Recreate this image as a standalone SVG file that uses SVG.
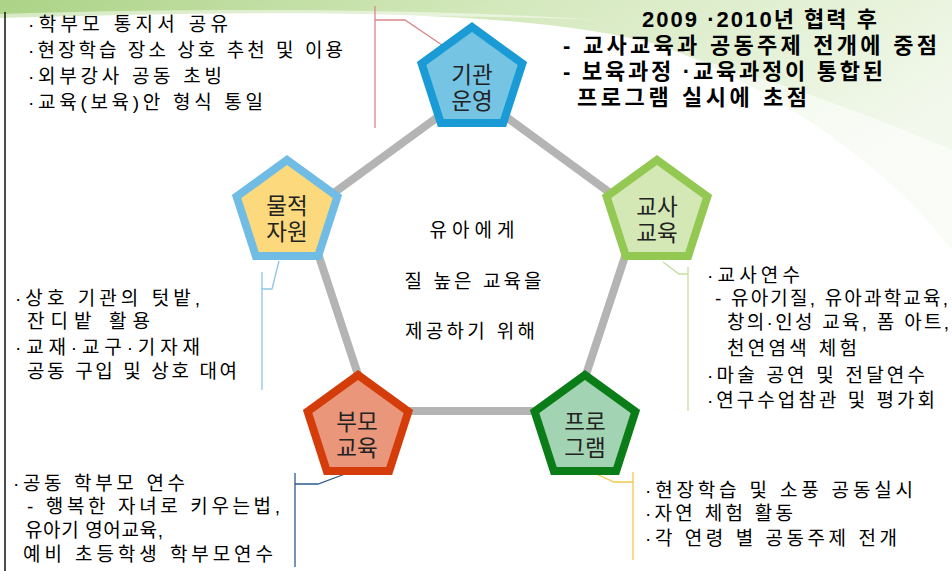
<svg xmlns="http://www.w3.org/2000/svg" width="952" height="571" viewBox="0 0 952 571">
<defs>
<linearGradient id="sw1" x1="0" y1="0" x2="1" y2="0.4">
<stop offset="0" stop-color="#8fc45e"/>
<stop offset="0.45" stop-color="#c4e0a4"/>
<stop offset="1" stop-color="#eef6e6"/>
</linearGradient>
<polygon id="pent" points="0,-53 50.4,-16.4 31.2,42.9 -31.2,42.9 -50.4,-16.4"/>
<style>
.t{font-family:"Liberation Sans","Noto Sans CJK KR",sans-serif;font-size:19px;fill:#000;}
.b{font-family:"Liberation Sans","Noto Sans CJK KR",sans-serif;font-size:22px;font-weight:bold;fill:#000;}
.lab{font-family:"Liberation Sans","Noto Sans CJK KR",sans-serif;font-size:22.5px;fill:#222;text-anchor:middle;}
.ring{stroke:#b4b4b4;stroke-width:8;fill:none;}
.co{fill:none;stroke-width:1.3;}
.pg{stroke-width:8;stroke-linejoin:miter;}
</style>
</defs>
<rect width="952" height="571" fill="#ffffff"/>
<path d="M0,0 L952,0 L952,250 C890,170 790,95 660,45 C520,8 300,10 0,18 Z" fill="url(#sw1)" opacity="0.75"/>
<path d="M420,20 C600,20 760,70 952,150 L952,250 C880,170 780,100 650,52 C560,28 480,22 420,20 Z" fill="#ffffff" opacity="0.55"/>
<path d="M0,14 C200,8 420,8 600,20 C450,14 220,15 0,22 Z" fill="#ffffff" opacity="0.5"/>
<line x1="5" y1="12" x2="5" y2="571" stroke="#111" stroke-width="1.5"/>

<g id="connectors">
<polyline class="ring" points="472,92 639,214 574,411 370,411 305,214 472,92"/>
<polyline class="co" stroke="#d9868a" points="375,6 375,128"/>
<polyline class="co" stroke="#d9868a" points="375,20 405,20 442,45"/>
<polyline class="co" stroke="#8cc6e6" points="262,272 262,390"/>
<polyline class="co" stroke="#8cc6e6" points="262,289 272,289 279,261"/>
<polyline class="co" stroke="#c5dea0" points="688,267 688,411"/>
<polyline class="co" stroke="#c5dea0" points="688,274 679,274 663,262"/>
<polyline class="co" stroke="#2e5a8a" points="295,473 295,567"/>
<polyline class="co" stroke="#2e5a8a" points="295,484 318,484 345,474"/>
<polyline class="co" stroke="#f2c84b" points="633,472 633,560"/>
<polyline class="co" stroke="#f2c84b" points="633,482 614,482 594,473"/>
</g>

<g id="node-gigwan">
<use href="#pent" transform="translate(472,80)" class="pg" fill="#76c4e4" stroke="#1a9bd5"/>
<text class="lab" x="472" y="83">기관<tspan x="472" dy="26">운영</tspan></text>
</g>
<g id="node-gyosa">
<use href="#pent" transform="translate(657,213)" class="pg" fill="#d4e8b6" stroke="#93c852"/>
<text class="lab" x="657" y="215">교사<tspan x="657" dy="26">교육</tspan></text>
</g>
<g id="node-program">
<use href="#pent" transform="translate(585,428)" class="pg" fill="#a2d3b2" stroke="#0b7d18"/>
<text class="lab" x="585" y="430">프로<tspan x="585" dy="26">그램</tspan></text>
</g>
<g id="node-bumo">
<use href="#pent" transform="translate(358,428)" class="pg" fill="#e9967b" stroke="#d43c0a"/>
<text class="lab" x="357" y="430">부모<tspan x="357" dy="26">교육</tspan></text>
</g>
<g id="node-muljeok">
<use href="#pent" transform="translate(287,213)" class="pg" fill="#fbd97c" stroke="#70bce4"/>
<text class="lab" x="287" y="214">물적<tspan x="287" dy="26">자원</tspan></text>
</g>

<g id="center-text">
<text class="t" x="472" y="237" text-anchor="middle" textLength="85" lengthAdjust="spacing">유아에게</text>
<text class="t" x="473" y="288" text-anchor="middle" textLength="137" lengthAdjust="spacing">질 높은 교육을</text>
<text class="t" x="470" y="338" text-anchor="middle" textLength="130" lengthAdjust="spacing">제공하기 위해</text>
</g>

<g id="note-gigwan">
<text class="t" x="28" y="31" textLength="200" lengthAdjust="spacing">·학부모 통지서 공유</text>
<text class="t" x="28" y="57" textLength="315" lengthAdjust="spacing">·현장학습 장소 상호 추천 및 이용</text>
<text class="t" x="28" y="83" textLength="194" lengthAdjust="spacing">·외부강사 공동 초빙</text>
<text class="t" x="28" y="109" textLength="235" lengthAdjust="spacing">·교육(보육)안 형식 통일</text>
</g>

<g id="note-summary">
<text class="b" x="642" y="27" textLength="235" lengthAdjust="spacing">2009 ·2010년 협력 후</text>
<text class="b" x="563" y="53" textLength="374" lengthAdjust="spacing">- 교사교육과 공동주제 전개에 중점</text>
<text class="b" x="563" y="79" textLength="320" lengthAdjust="spacing">- 보육과정 ·교육과정이 통합된</text>
<text class="b" x="577" y="105" textLength="230" lengthAdjust="spacing">프로그램 실시에 초점</text>
</g>

<g id="note-muljeok">
<text class="t" x="15" y="305" textLength="185" lengthAdjust="spacing">·상호 기관의 텃밭,</text>
<text class="t" x="27" y="328" textLength="123" lengthAdjust="spacing">잔디밭 활용</text>
<text class="t" x="15" y="354" textLength="185" lengthAdjust="spacing">·교재·교구·기자재</text>
<text class="t" x="27" y="378" textLength="210" lengthAdjust="spacing">공동 구입 및 상호 대여</text>
</g>

<g id="note-gyosa">
<text class="t" x="707" y="282" textLength="93" lengthAdjust="spacing">·교사연수</text>
<text class="t" x="715" y="305" textLength="233" lengthAdjust="spacing">- 유아기질, 유아과학교육,</text>
<text class="t" x="727" y="329" textLength="222" lengthAdjust="spacing">창의·인성 교육, 폼 아트,</text>
<text class="t" x="727" y="355" textLength="130" lengthAdjust="spacing">천연염색 체험</text>
<text class="t" x="707" y="382" textLength="218" lengthAdjust="spacing">·마술 공연 및 전달연수</text>
<text class="t" x="707" y="407" textLength="228" lengthAdjust="spacing">·연구수업참관 및 평가회</text>
</g>

<g id="note-bumo">
<text class="t" x="13" y="490" textLength="172" lengthAdjust="spacing">·공동 학부모 연수</text>
<text class="t" x="27" y="513" textLength="253" lengthAdjust="spacing">- 행복한 자녀로 키우는법,</text>
<text class="t" x="25" y="537" textLength="138" lengthAdjust="spacing">유아기 영어교육,</text>
<text class="t" x="23" y="561" textLength="250" lengthAdjust="spacing">예비 초등학생 학부모연수</text>
</g>

<g id="note-program">
<text class="t" x="645" y="497" textLength="268" lengthAdjust="spacing">·현장학습 및 소풍 공동실시</text>
<text class="t" x="645" y="520" textLength="148" lengthAdjust="spacing">·자연 체험 활동</text>
<text class="t" x="645" y="545" textLength="252" lengthAdjust="spacing">·각 연령 별 공동주제 전개</text>
</g>
</svg>
